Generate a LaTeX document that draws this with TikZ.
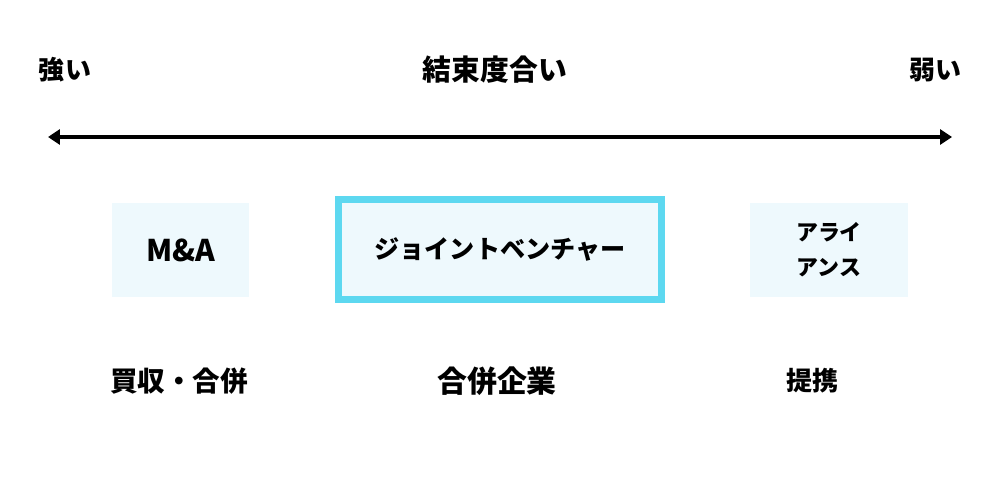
\documentclass[tikz,border=0pt]{standalone}
\usepackage{fontspec}
\setmainfont{Noto Sans CJK JP}
\usepackage{xcolor}
\usetikzlibrary{arrows.meta,positioning}
\definecolor{boxfill}{HTML}{EEF9FD}
\definecolor{boxline}{HTML}{5DD8F0}

\begin{document}
\begin{tikzpicture}[
    x=0.02cm, y=-0.02cm,
    label/.style={font=\bfseries\fontsize{#1}{#1}\selectfont},
    label/.default=14.8pt,
    kind/.style={fill=boxfill, minimum width=3.16cm, minimum height=1.88cm,
      align=center, font=\bfseries\fontsize{12.5pt}{19.9pt}\selectfont},
    main/.style={kind, draw=boxline, line width=3.98pt,
      minimum width=6.46cm, minimum height=2cm}
  ]
    \useasboundingbox (0,0) rectangle (1000,500);

    % Scale labels
    \node[label] (strong) at (65,70) {強い};
    \node[label=16.4pt] (degree) at (495,70) {結束度合い};
    \node[label] (weak) at (935,70) {弱い};

    % Scale arrow
    \coordinate (left) at (48,137);
    \coordinate (right) at (952,137);
    \draw[{Triangle[length=0.24cm,width=0.3cm]}-{Triangle[length=0.24cm,width=0.3cm]},
      line width=2.3pt] (left) -- (right);

    % Forms of cooperation
    \node[kind, minimum width=2.74cm, font=\bfseries\fontsize{17pt}{17pt}\selectfont]
      (ma) at (180.5,250) {M\&A};
    \node[main, font=\bfseries\fontsize{14.3pt}{17pt}\selectfont]
      (jv) at (500,249.5) {ジョイントベンチャー};
    \node[kind] (alliance) at (829,250) {アライ\\アンス};

    % Descriptions
    \node[label=15.7pt] (merger) at (179,381) {買収・合併};
    \node[label=17pt] (company) at (497,381) {合併企業};
    \node[label] (tieup) at (812,381) {提携};
  \end{tikzpicture}
\end{document}
